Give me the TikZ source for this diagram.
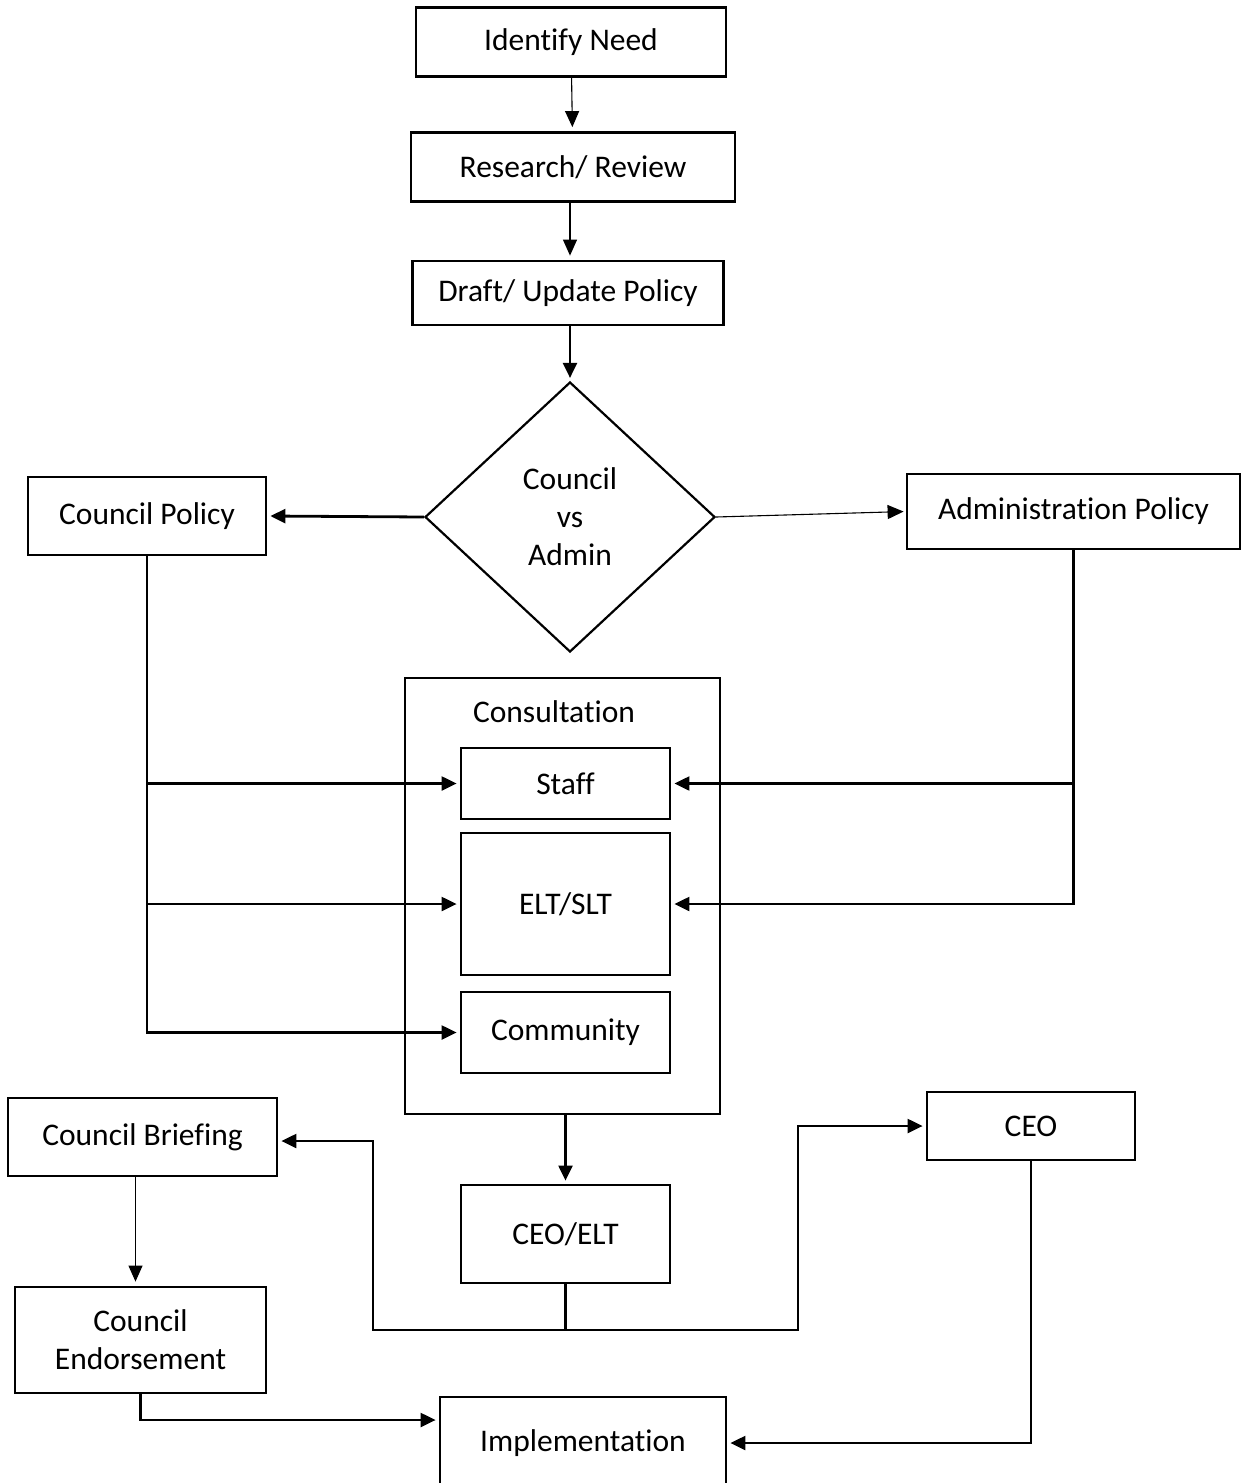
\documentclass[tikz,border=0pt]{standalone}
\usepackage{fontspec}
\setmainfont{Carlito}[Ligatures=NoCommon]
\usetikzlibrary{shapes.geometric,arrows.meta}
\begin{document}
\begin{tikzpicture}[x=1pt,y=-1pt,
  box/.style={draw,line width=2.8pt,rectangle,inner sep=0pt,align=center},
  conn/.style={line width=2.2pt},
  thinconn/.style={line width=1.1pt},
  arr/.style={conn,-{Triangle[length=15pt,width=14pt]},shorten >=3pt},
  thinarr/.style={thinconn,-{Triangle[length=16pt,width=14pt]},shorten >=4pt},
  every node/.style={font=\fontsize{31.5}{38}\selectfont}]
\useasboundingbox[fill=white] (0,0) rectangle (1243,1483);
% boxes
\node[box,minimum width=310pt,minimum height=69pt] (need) at (571,42) {Identify Need};
\node[box,minimum width=324pt,minimum height=69pt] (research) at (573,167) {Research/ Review};
\node[box,minimum width=311pt,minimum height=64pt] (draft) at (568,293) {Draft/ Update Policy};
\node[draw,line width=2.2pt,diamond,minimum width=290pt,minimum height=270pt,inner sep=0pt,align=center] (dia) at (570,517) {Council\\vs\\Admin};
\node[box,minimum width=238pt,minimum height=78pt] (cpol) at (147,516) {Council Policy};
\node[box,minimum width=333pt,minimum height=75pt] (apol) at (1073.5,511.5) {Administration Policy};
\node[box,minimum width=315pt,minimum height=436pt] (cons) at (562.5,896) {};
\node (conslabel) at (554,712) {Consultation};
\node[box,minimum width=209pt,minimum height=71pt] (staff) at (565.5,783.5) {Staff};
\node[box,minimum width=209pt,minimum height=142pt] (elt) at (565.5,904) {ELT/SLT};
\node[box,minimum width=209pt,minimum height=81pt] (comm) at (565.5,1032.5) {Community};
\node[box,minimum width=209pt,minimum height=98pt] (ceoelt) at (565.5,1234) {CEO/ELT};
\node[box,minimum width=269pt,minimum height=78pt] (brief) at (142.5,1137) {Council Briefing};
\node[box,minimum width=208pt,minimum height=68pt] (ceo) at (1031,1126) {CEO};
\node[box,minimum width=251pt,minimum height=106pt] (endorse) at (140.5,1340) {Council\\Endorsement};
\node[box,minimum width=286pt,minimum height=92pt] (impl) at (583,1443) {Implementation};
% connectors
\draw[thinarr] (need) -- (research);
\draw[thinarr] ([xshift=-3pt]research.south) -- ([xshift=2pt]draft.north);
\draw[arr] ([xshift=2pt]draft.south) -- (dia.north);
\draw[arr,line width=2.8pt] (dia.west) -- (cpol.east);
\draw[thinarr,shorten >=2pt] (dia.east) -- (apol.west);
% council policy branches
\draw[arr] (cpol.south) |- (comm.west);
\draw[arr] (cpol.south |- staff.west) -- (staff.west);
\draw[arr] (cpol.south |- elt.west) -- (elt.west);
% admin policy branches
\draw[arr] (apol.south) |- (elt.east);
\draw[arr] (apol.south |- staff.east) -- (staff.east);
% consultation to CEO/ELT
\draw[arr] (cons.south -| ceoelt.north) -- (ceoelt.north);
% CEO/ELT split
\coordinate (j) at (565.5,1330);
\coordinate (jl) at (373,1330);
\coordinate (jr) at (798,1330);
\draw[conn] (ceoelt.south) -- (j);
\draw[conn,line cap=rect] (jl) -- (jr);
\draw[arr] (jl) |- ([yshift=-4pt]brief.east);
\draw[arr] (jr) |- (ceo.west);
% council briefing to endorsement
\draw[thinarr] ([xshift=-7pt]brief.south) -- ([xshift=-5pt]endorse.north);
% to implementation
\draw[arr] (endorse.south) |- ([yshift=23pt]impl.west);
\draw[arr] (ceo.south) |- (impl.east);
\end{tikzpicture}
\end{document}
